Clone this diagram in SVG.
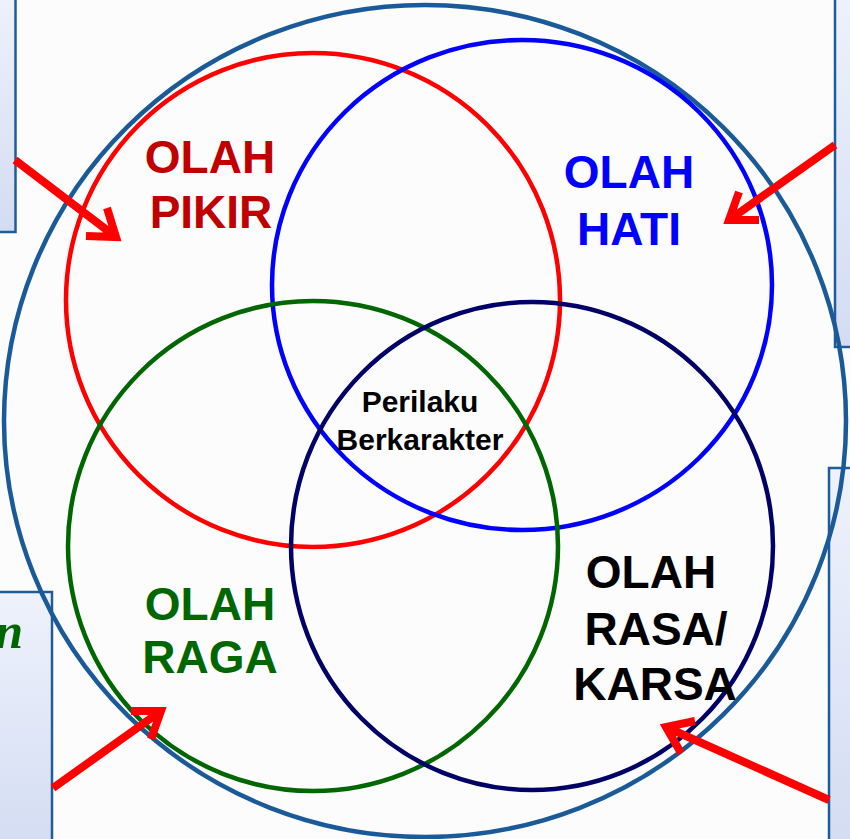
<svg xmlns="http://www.w3.org/2000/svg" width="850" height="839" viewBox="0 0 850 839">
  <defs>
    <linearGradient id="boxGrad" x1="0" y1="0" x2="0" y2="1">
      <stop offset="0" stop-color="#eef2fc"/>
      <stop offset="1" stop-color="#d3dcf2"/>
    </linearGradient>
    <style>
      .box { fill: url(#boxGrad); stroke: #1f5c99; stroke-width: 2.5; }
      .ring { fill: none; stroke-width: 4.5; }
      .arrow { fill: none; stroke: #ff0000; stroke-width: 8; stroke-linejoin: miter; stroke-linecap: butt; }
      .lbl { font-family: "Liberation Sans", Arial, sans-serif; font-weight: bold; font-size: 46px; text-anchor: middle; }
      .center { font-family: "Liberation Sans", Arial, sans-serif; font-weight: bold; font-size: 30px; text-anchor: middle; fill: #000000; }
    </style>
  </defs>

  <rect x="0" y="0" width="850" height="839" fill="#fcfcfc"/>

  <g id="side-boxes">
    <rect class="box" x="-10" y="-10" width="25.5" height="242"/>
    <rect class="box" x="835" y="-10" width="30" height="357"/>
    <rect class="box" x="-10" y="592" width="62" height="260"/>
    <text x="23" y="648" font-family="Liberation Serif, serif" font-style="italic" font-weight="bold" font-size="50" fill="#006600" text-anchor="end">n</text>
    <rect class="box" x="829" y="468" width="30" height="380"/>
  </g>

  <g id="outer">
    <ellipse class="ring" cx="425" cy="421" rx="421" ry="416" stroke="#1b5a98"/>
  </g>

  <g id="olah-pikir">
    <circle class="ring" cx="313" cy="300" r="247" stroke="#ff0000"/>
    <text class="lbl" fill="#c00000"><tspan x="210" y="173">OLAH</tspan><tspan x="211" y="228">PIKIR</tspan></text>
  </g>

  <g id="olah-hati">
    <ellipse class="ring" cx="522" cy="285" rx="250" ry="245" stroke="#0000ff"/>
    <text class="lbl" fill="#0000ff"><tspan x="629" y="188">OLAH</tspan><tspan x="629" y="245">HATI</tspan></text>
  </g>

  <g id="olah-raga">
    <circle class="ring" cx="313" cy="546" r="245" stroke="#006600"/>
    <text class="lbl" fill="#006600"><tspan x="210" y="620">OLAH</tspan><tspan x="210" y="673">RAGA</tspan></text>
  </g>

  <g id="olah-rasa">
    <ellipse class="ring" cx="532" cy="546" rx="241" ry="244" stroke="#000066"/>
    <text class="lbl" fill="#000000"><tspan x="651" y="588">OLAH</tspan><tspan x="656" y="645">RASA/</tspan><tspan x="655" y="700">KARSA</tspan></text>
  </g>

  <g id="perilaku">
    <text class="center"><tspan x="420" y="412">Perilaku</tspan><tspan x="420" y="450">Berkarakter</tspan></text>
  </g>

  <g id="connectors">
    <path class="arrow" d="M15 160 L116 237 M107 208 L116 237 L86 236"/>
    <path class="arrow" d="M835 145 L729 220 M739 192 L729 220 L759 220"/>
    <path class="arrow" d="M53 788 L161 711 M131 711 L161 711 L151 739"/>
    <path class="arrow" d="M829 800 L666 727 M695 721 L666 727 L681 753"/>
  </g>
</svg>
